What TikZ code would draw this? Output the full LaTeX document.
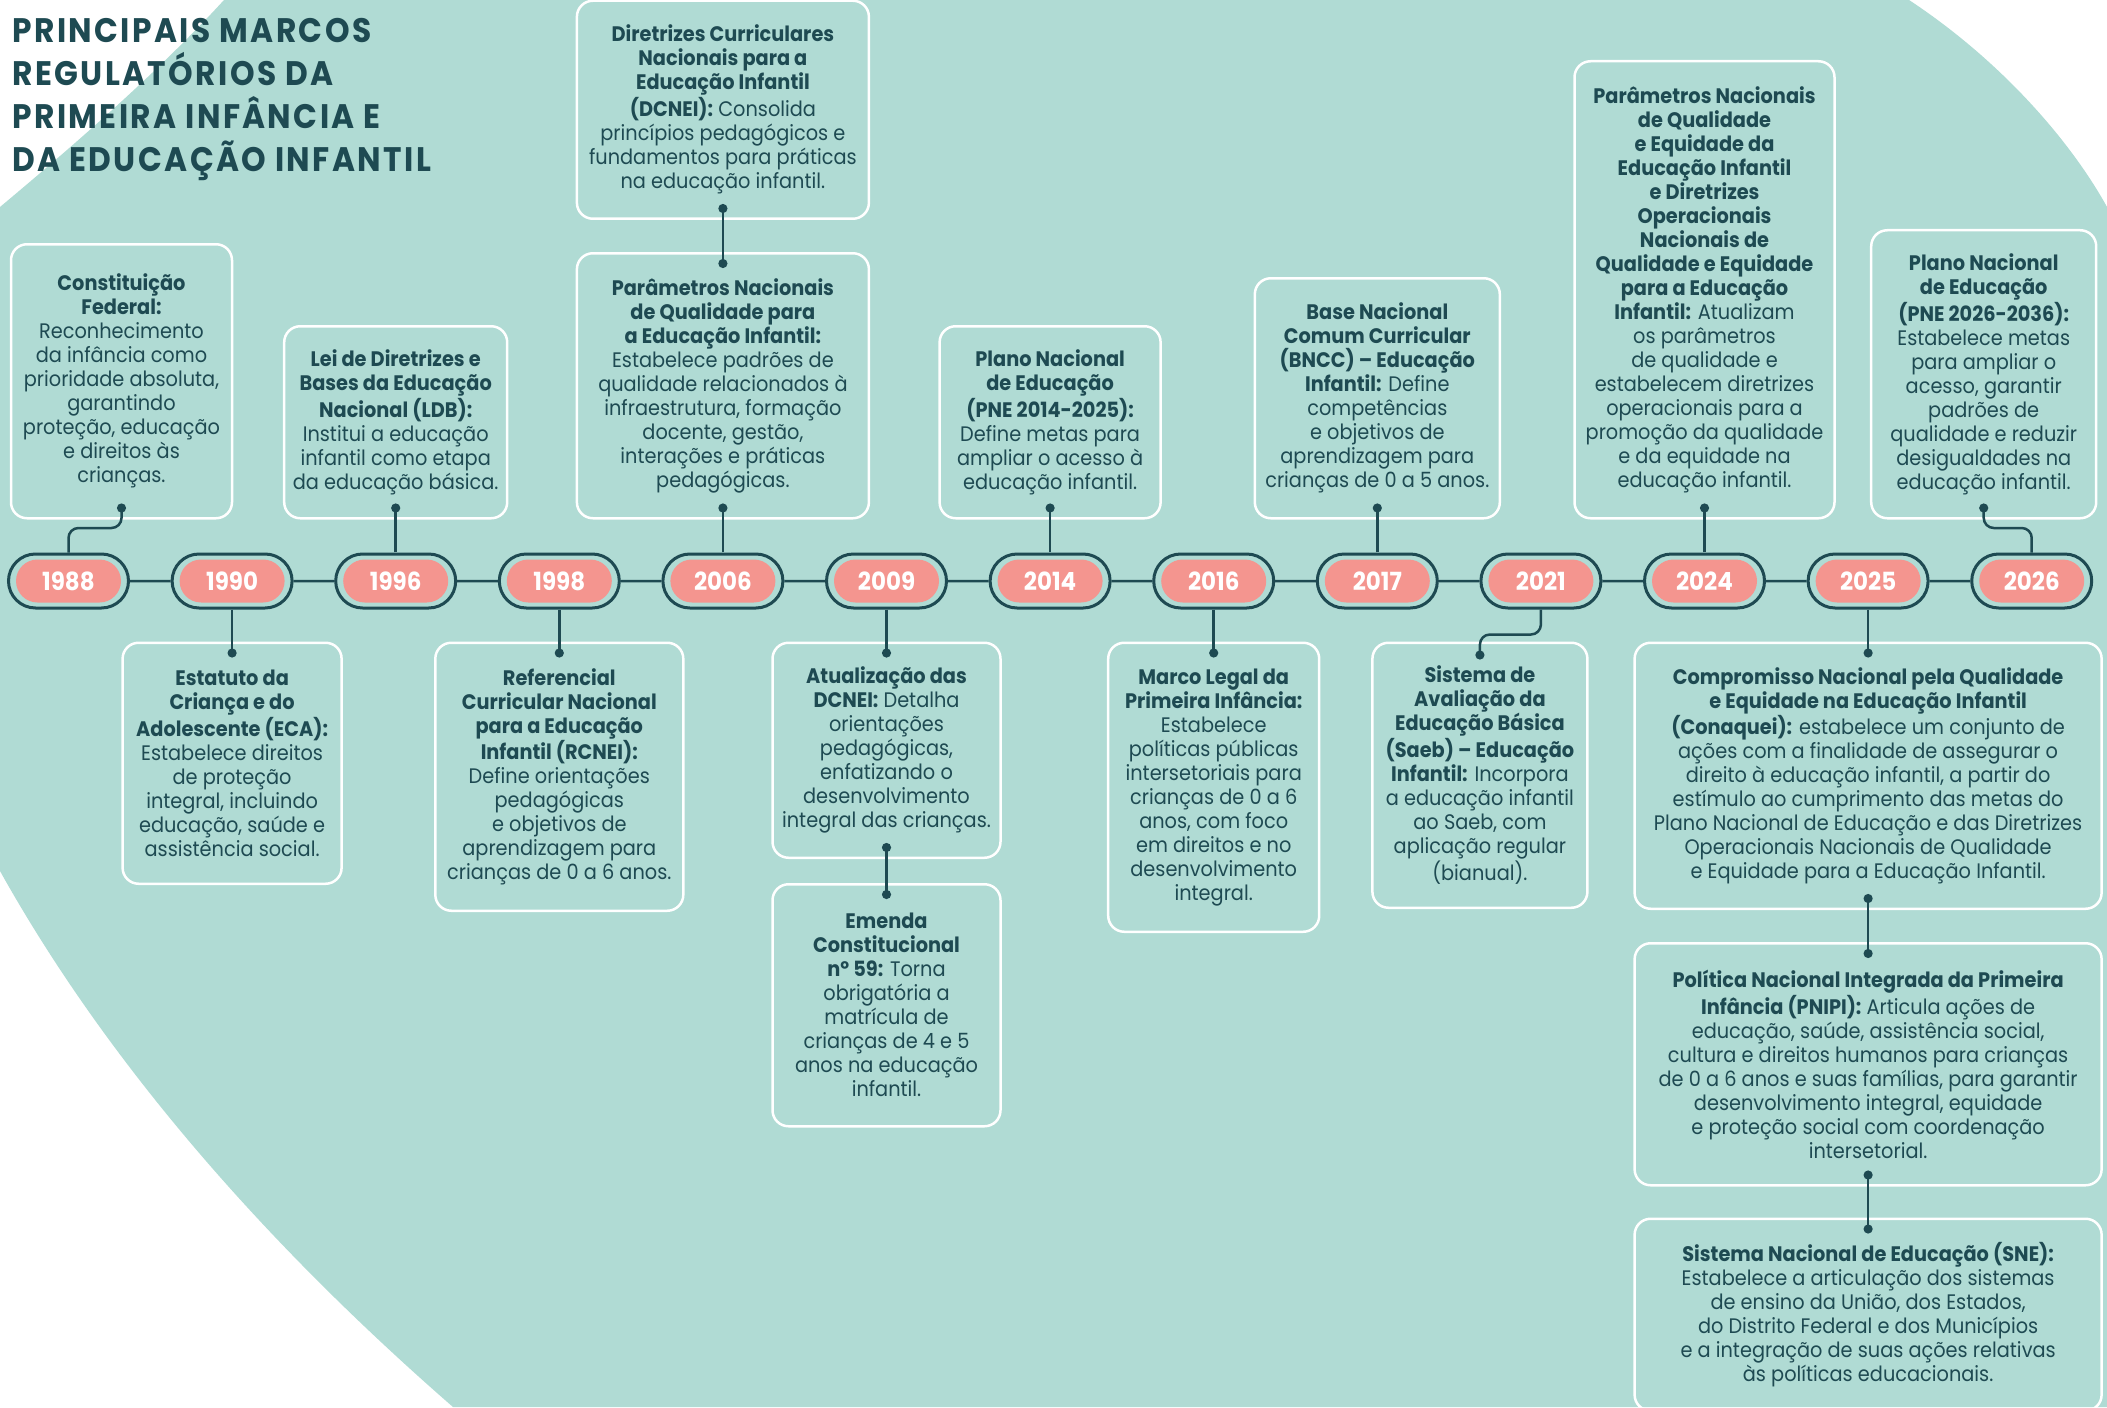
\documentclass[tikz,border=0pt]{standalone}
\usepackage{fontspec}
\setmainfont{Poppins}[FakeStretch=0.92]
\usepackage{tikz}
\usetikzlibrary{shapes.misc,arrows.meta,positioning,calc}
\definecolor{fundo}{RGB}{176,219,212}
\definecolor{escuro}{RGB}{30,74,82}
\definecolor{rosa}{RGB}{244,149,143}
\newcommand{\corpo}{\fontsize{10.5}{12}\selectfont}
\tikzstyle{titulo} = [anchor=north west, align=left, inner sep=0pt, text=escuro, font=\fontsize{17}{21.5}\selectfont\bfseries\addfontfeatures{LetterSpace=7}]
\tikzstyle{marco} = [rectangle, draw=white, line width=1.25pt, rounded corners=8pt, align=center, text=escuro, font=\corpo, inner sep=0pt]
\tikzstyle{anel} = [rounded rectangle, draw=escuro, line width=1.5pt, fill=fundo, minimum width=60pt, minimum height=27pt, inner sep=0pt]
\tikzstyle{ano} = [rounded rectangle, fill=rosa, text=white, font=\fontsize{12.5}{12.5}\selectfont\bfseries, minimum width=52.5pt, minimum height=21.5pt, inner sep=0pt]
\tikzstyle{linha} = [draw=escuro, line width=1.25pt]
\tikzstyle{liga} = [linha, -{Circle[length=4.5pt]}]
\tikzstyle{duplo} = [linha, {Circle[length=4.5pt]}-{Circle[length=4.5pt]}, shorten <=-8pt, shorten >=-8pt]

\begin{document}
\begin{tikzpicture}[node distance=81.8pt, x=0.5pt, y=-0.5pt]
    \useasboundingbox (0,0) rectangle (2107,1407);
    % fundo
    \fill[fundo] (224,0) -- (1909,0) .. controls (2000,60) and (2070,140) .. (2107,207) -- (2107,1407) -- (453,1407) .. controls (250,1230) and (100,1050) .. (0,871) -- (0,207) .. controls (80,140) and (160,70) .. (224,0) -- cycle;

    \node[titulo] (titulo) at (12,18) {PRINCIPAIS MARCOS\\REGULATÓRIOS DA\\PRIMEIRA INFÂNCIA E\\DA EDUCAÇÃO INFANTIL};

    % linha do tempo
    \node[anel] (a1988) at (68.5,581) {};
    \node[anel, right of=a1988] (a1990) {};
    \node[anel, right of=a1990] (a1996) {};
    \node[anel, right of=a1996] (a1998) {};
    \node[anel, right of=a1998] (a2006) {};
    \node[anel, right of=a2006] (a2009) {};
    \node[anel, right of=a2009] (a2014) {};
    \node[anel, right of=a2014] (a2016) {};
    \node[anel, right of=a2016] (a2017) {};
    \node[anel, right of=a2017] (a2021) {};
    \node[anel, right of=a2021] (a2024) {};
    \node[anel, right of=a2024] (a2025) {};
    \node[anel, right of=a2025] (a2026) {};
    \node[ano] (t1988) at (a1988) {1988};
    \node[ano] (t1990) at (a1990) {1990};
    \node[ano] (t1996) at (a1996) {1996};
    \node[ano] (t1998) at (a1998) {1998};
    \node[ano] (t2006) at (a2006) {2006};
    \node[ano] (t2009) at (a2009) {2009};
    \node[ano] (t2014) at (a2014) {2014};
    \node[ano] (t2016) at (a2016) {2016};
    \node[ano] (t2017) at (a2017) {2017};
    \node[ano] (t2021) at (a2021) {2021};
    \node[ano] (t2024) at (a2024) {2024};
    \node[ano] (t2025) at (a2025) {2025};
    \node[ano] (t2026) at (a2026) {2026};
    \draw[linha] (a1988) -- (a1990) (a1990) -- (a1996) (a1996) -- (a1998) (a1998) -- (a2006)
        (a2006) -- (a2009) (a2009) -- (a2014) (a2014) -- (a2016) (a2016) -- (a2017)
        (a2017) -- (a2021) (a2021) -- (a2024) (a2024) -- (a2025) (a2025) -- (a2026);

    % marcos acima
    \node[marco, minimum width=110.5pt, minimum height=137pt, above=16.5pt of a1988, xshift=26.5pt] (m1988) {\textbf{Constituição}\\\textbf{Federal:}\\Reconhecimento\\da infância como\\prioridade absoluta,\\garantindo\\proteção, educação\\e direitos às\\crianças.};
    \node[marco, minimum width=111.5pt, minimum height=96pt, above=16.5pt of a1996] (m1996) {\textbf{Lei de Diretrizes e}\\\textbf{Bases da Educação}\\\textbf{Nacional (LDB):}\\Institui a educação\\infantil como etapa\\da educação básica.};
    \node[marco, minimum width=146pt, minimum height=132.5pt, above=16.5pt of a2006] (m2006b) {\textbf{Parâmetros Nacionais}\\\textbf{de Qualidade para}\\\textbf{a Educação Infantil:}\\Estabelece padrões de\\qualidade relacionados à\\infraestrutura, formação\\docente, gestão,\\interações e práticas\\pedagógicas.};
    \node[marco, minimum width=146pt, minimum height=109pt, above=16pt of m2006b] (m2006a) {\textbf{Diretrizes Curriculares}\\\textbf{Nacionais para a}\\\textbf{Educação Infantil}\\\textbf{(DCNEI):} Consolida\\princípios pedagógicos e\\fundamentos para práticas\\na educação infantil.};
    \node[marco, minimum width=110.5pt, minimum height=96pt, above=16.5pt of a2014] (m2014) {\textbf{Plano Nacional}\\\textbf{de Educação}\\\textbf{(PNE 2014-2025):}\\Define metas para\\ampliar o acesso à\\educação infantil.};
    \node[marco, minimum width=122.5pt, minimum height=120pt, above=16.5pt of a2017] (m2017) {\textbf{Base Nacional}\\\textbf{Comum Curricular}\\\textbf{(BNCC) – Educação}\\\textbf{Infantil:} Define\\competências\\e objetivos de\\aprendizagem para\\crianças de 0 a 5 anos.};
    \node[marco, minimum width=130pt, minimum height=228.5pt, above=16.5pt of a2024] (m2024) {\textbf{Parâmetros Nacionais}\\\textbf{de Qualidade}\\\textbf{e Equidade da}\\\textbf{Educação Infantil}\\\textbf{e Diretrizes}\\\textbf{Operacionais}\\\textbf{Nacionais de}\\\textbf{Qualidade e Equidade}\\\textbf{para a Educação}\\\textbf{Infantil:} Atualizam\\os parâmetros\\de qualidade e\\estabelecem diretrizes\\operacionais para a\\promoção da qualidade\\e da equidade na\\educação infantil.};
    \node[marco, minimum width=112.5pt, minimum height=144pt, above=16.5pt of a2026, xshift=-24pt] (m2026) {\textbf{Plano Nacional}\\\textbf{de Educação}\\\textbf{(PNE 2026-2036):}\\Estabelece metas\\para ampliar o\\acesso, garantir\\padrões de\\qualidade e reduzir\\desigualdades na\\educação infantil.};

    % marcos abaixo
    \node[marco, minimum width=109.5pt, minimum height=120.5pt, below=16pt of a1990] (m1990) {\textbf{Estatuto da}\\\textbf{Criança e do}\\\textbf{Adolescente (ECA):}\\Estabelece direitos\\de proteção\\integral, incluindo\\educação, saúde e\\assistência social.};
    \node[marco, minimum width=124pt, minimum height=134pt, below=16pt of a1998] (m1998) {\textbf{Referencial}\\\textbf{Curricular Nacional}\\\textbf{para a Educação}\\\textbf{Infantil (RCNEI):}\\Define orientações\\pedagógicas\\e objetivos de\\aprendizagem para\\crianças de 0 a 6 anos.};
    \node[marco, minimum width=114pt, minimum height=107.5pt, below=16pt of a2009] (m2009a) {\textbf{Atualização das}\\\textbf{DCNEI:} Detalha\\orientações\\pedagógicas,\\enfatizando o\\desenvolvimento\\integral das crianças.};
    \node[marco, minimum width=114pt, minimum height=121pt, below=12pt of m2009a] (m2009b) {\textbf{Emenda}\\\textbf{Constitucional}\\\textbf{nº 59:} Torna\\obrigatória a\\matrícula de\\crianças de 4 e 5\\anos na educação\\infantil.};
    \node[marco, minimum width=105.5pt, minimum height=144.5pt, below=16pt of a2016] (m2016) {\textbf{Marco Legal da}\\\textbf{Primeira Infância:}\\Estabelece\\políticas públicas\\intersetoriais para\\crianças de 0 a 6\\anos, com foco\\em direitos e no\\desenvolvimento\\integral.};
    \node[marco, minimum width=107.5pt, minimum height=132.5pt, below=16pt of a2021, xshift=-30.5pt] (m2021) {\textbf{Sistema de}\\\textbf{Avaliação da}\\\textbf{Educação Básica}\\\textbf{(Saeb) – Educação}\\\textbf{Infantil:} Incorpora\\a educação infantil\\ao Saeb, com\\aplicação regular\\(bianual).};
    \node[marco, minimum width=233.5pt, minimum height=133pt, below=16pt of a2025] (m2025a) {\textbf{Compromisso Nacional pela Qualidade}\\\textbf{e Equidade na Educação Infantil}\\\textbf{(Conaquei):} estabelece um conjunto de\\ações com a finalidade de assegurar o\\direito à educação infantil, a partir do\\estímulo ao cumprimento das metas do\\Plano Nacional de Educação e das Diretrizes\\Operacionais Nacionais de Qualidade\\e Equidade para a Educação Infantil.};
    \node[marco, minimum width=233.5pt, minimum height=121pt, below=16pt of m2025a] (m2025b) {\textbf{Política Nacional Integrada da Primeira}\\\textbf{Infância (PNIPI):} Articula ações de\\educação, saúde, assistência social,\\cultura e direitos humanos para crianças\\de 0 a 6 anos e suas famílias, para garantir\\desenvolvimento integral, equidade\\e proteção social com coordenação\\intersetorial.};
    \node[marco, minimum width=233.5pt, minimum height=96pt, below=15.5pt of m2025b] (m2025c) {\textbf{Sistema Nacional de Educação (SNE):}\\Estabelece a articulação dos sistemas\\de ensino da União, dos Estados,\\do Distrito Federal e dos Municípios\\e a integração de suas ações relativas\\às políticas educacionais.};

    % ligacoes
    \coordinate (d1988) at ($(m1988.south)+(0,-16)$);
    \draw[liga, rounded corners=5pt] (a1988.north) |- ($(a1988.north)!0.5!(d1988)$) -| (d1988);
    \coordinate (d2026) at ($(m2026.south)+(0,-16)$);
    \draw[liga, rounded corners=5pt] (a2026.north) |- ($(a2026.north)!0.5!(d2026)$) -| (d2026);
    \coordinate (d2021) at ($(m2021.north)+(0,18)$);
    \draw[liga, rounded corners=5pt] (a2021.south) |- ($(a2021.south)!0.5!(d2021)$) -| (d2021);
    \draw[liga, shorten >=-8pt] (a1996) -- (m1996);
    \draw[liga, shorten >=-8pt] (a2006) -- (m2006b);
    \draw[liga, shorten >=-8pt] (a2014) -- (m2014);
    \draw[liga, shorten >=-8pt] (a2017) -- (m2017);
    \draw[liga, shorten >=-8pt] (a2024) -- (m2024);
    \draw[liga, shorten >=-8pt] (a1990) -- (m1990);
    \draw[liga, shorten >=-8pt] (a1998) -- (m1998);
    \draw[liga, shorten >=-8pt] (a2009) -- (m2009a);
    \draw[liga, shorten >=-8pt] (a2016) -- (m2016);
    \draw[liga, shorten >=-8pt] (a2025) -- (m2025a);
    \draw[duplo] (m2006a) -- (m2006b);
    \draw[duplo] (m2009a) -- (m2009b);
    \draw[duplo] (m2025a) -- (m2025b);
    \draw[duplo] (m2025b) -- (m2025c);
\end{tikzpicture}
\end{document}
